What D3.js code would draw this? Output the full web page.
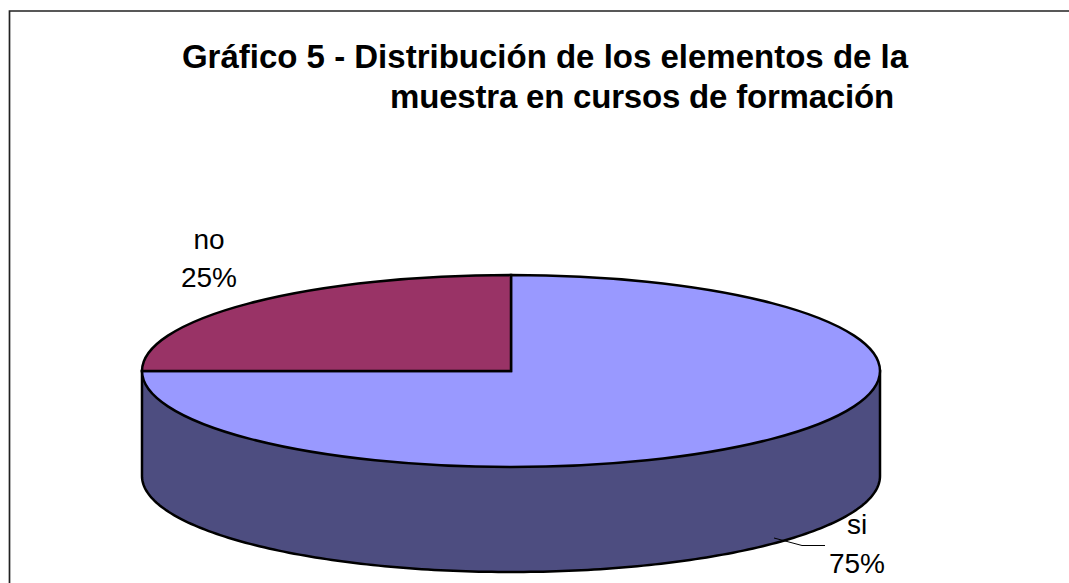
<!DOCTYPE html>
<html><head><meta charset="utf-8">
<script src="https://cdn.jsdelivr.net/npm/d3@7"></script>
<style>html,body{margin:0;padding:0;background:#fff}svg{display:block}text{font-family:"Liberation Sans",Arial,sans-serif;fill:#000}</style>
</head><body><div id="chart"></div>
<script>
const categories = ["si", "no"];
const values = [75, 25];
const titleLines = ["Gráfico 5 - Distribución de los elementos de la", "muestra en cursos de formación"];
const colors = ["#9999ff", "#993366"];
const W = 1069, H = 583, cx = 511, cy = 371, rx = 369, ry = 96, depth = 105;
const svg = d3.select("#chart").append("svg").attr("width", W).attr("height", H);
svg.append("path").attr("d", `M9.5,${H}V11H${W}`).attr("fill","none").attr("stroke","#222").attr("stroke-width",1.7);
svg.selectAll("text.title").data(titleLines).join("text").attr("class","title")
  .attr("x",(d,i)=>[545,642][i]).attr("y",(d,i)=>[68,108][i]).attr("text-anchor","middle")
  .attr("letter-spacing",(d,i)=>[0,-0.2][i])
  .attr("font-size",33).attr("font-weight","bold").text(d=>d);
const wallPts = d3.range(90, 270.01, 1).map(a => {const r=a*Math.PI/180; return [cx+rx*Math.sin(r), cy+depth-ry*Math.cos(r)];});
const wall = [[cx+rx,cy],...wallPts,[cx-rx,cy]];
svg.append("path").attr("d", d3.line()(wall)+"Z").attr("fill","#4d4d80").attr("stroke","#000").attr("stroke-width",2.5);
const pie = d3.pie().sort(null).value(d=>d);
const arcs = pie(values);
const arc = d3.arc().innerRadius(0).outerRadius(rx);
const g = svg.append("g").attr("transform",`translate(${cx},${cy}) scale(1,${ry/rx})`);
g.selectAll("path").data(arcs).join("path").attr("d",arc).attr("fill",(d,i)=>colors[i])
  .attr("stroke","#000").attr("stroke-width",2.5).attr("vector-effect","non-scaling-stroke");
svg.append("path").attr("d","M774,538L802,545.5H825").attr("fill","none").attr("stroke","#000").attr("stroke-width",1);
const labels=[{x:857,y1:534,y2:573},{x:209,y1:249,y2:287}];
categories.forEach((c,i)=>{
  const l=labels[i];
  svg.append("text").attr("x",l.x).attr("y",l.y1).attr("text-anchor","middle").attr("font-size",28).text(c);
  svg.append("text").attr("x",l.x).attr("y",l.y2).attr("text-anchor","middle").attr("font-size",28).text(values[i]+"%");
});
</script></body></html>
